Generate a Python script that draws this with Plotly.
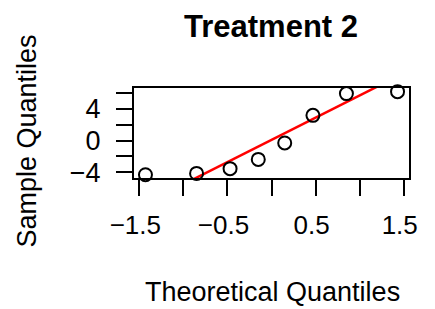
import numpy as np
import plotly.graph_objects as go

# Data (normal Q-Q plot, Treatment 2)
theoretical_q = [-1.43, -0.85, -0.47, -0.15, 0.15, 0.47, 0.85, 1.43]
sample_q = [-4.3, -4.14, -3.54, -2.37, -0.29, 3.2, 5.95, 6.2]

x_tickvals = [-1.5, -1.0, -0.5, 0.0, 0.5, 1.0, 1.5]
x_ticktext = ["\u22121.5", "", "\u22120.5", "", "0.5", "", "1.5"]
y_tickvals = [-4, -2, 0, 2, 4, 6]
y_ticktext = ["\u22124", "", "0", "", "4", ""]

title_text = "Treatment 2"
xlab = "Theoretical Quantiles"
ylab = "Sample Quantiles"

# qqline: line through the 1st and 3rd quartiles
yq = np.quantile(np.array(sample_q), [0.25, 0.75])
xq = np.array([-0.6744897501960817, 0.6744897501960817])
slope = (yq[1] - yq[0]) / (xq[1] - xq[0])
intercept = yq[0] - slope * xq[0]
line_x = np.array([-3.0, 3.0])
line_y = intercept + slope * line_x

# page has an 8px body margin; figure occupies screen pixels 8..427, 8..309
OFF = 8
W, H = 435 - 2 * OFF, 309 - OFF
L, T, B = 134 - OFF, 88 - OFF, 131
R = W - (418 - OFF)
pw, ph = W - L - R, H - T - B

def px(x):  # screen x -> paper
    return (x - OFF - L) / pw

def py(y):  # screen y -> paper
    return (H - B - (y - OFF)) / ph

FONT = "Liberation Sans, Arial, sans-serif"

fig = go.Figure()
fig.add_trace(go.Scatter(x=line_x, y=line_y, mode="lines",
                         line=dict(color="#ff0000", width=2.5),
                         hoverinfo="skip", showlegend=False))
fig.add_trace(go.Scatter(x=theoretical_q, y=sample_q, mode="markers",
                         marker=dict(symbol="circle-open", size=13,
                                     color="black", line=dict(width=2)),
                         cliponaxis=False, showlegend=False))

axis_common = dict(showline=True, linecolor="black", linewidth=2, mirror=True,
                   ticks="outside", ticklen=16, tickwidth=2, tickcolor="black",
                   showgrid=False, zeroline=False)

fig.update_xaxes(range=[-1.56, 1.56], tickvals=x_tickvals, ticktext=x_ticktext,
                 ticklabelstandoff=7, ticklabelshift=-4,
                 tickfont=dict(family=FONT, size=26, color="black"),
                 **axis_common)
fig.update_yaxes(range=[-4.72, 6.66], tickvals=y_tickvals, ticktext=y_ticktext,
                 ticklabelstandoff=10,
                 tickfont=dict(family=FONT, size=27, color="black"),
                 **axis_common)

fig.update_layout(
    width=W, height=H,
    margin=dict(l=L, r=R, t=T, b=B, pad=0),
    paper_bgcolor="white", plot_bgcolor="white",
    showlegend=False,
    annotations=[
        dict(text="<b>" + title_text + "</b>", xref="paper", yref="paper",
             x=px(275), y=py(26), xanchor="center", yanchor="middle",
             showarrow=False, font=dict(family=FONT, size=31, color="black")),
        dict(text=xlab, xref="paper", yref="paper",
             x=px(277), y=py(292), xanchor="center", yanchor="middle",
             showarrow=False, font=dict(family=FONT, size=27, color="black")),
        dict(text=ylab, xref="paper", yref="paper", textangle=-90,
             x=px(23), y=py(141), xanchor="center", yanchor="middle",
             showarrow=False, font=dict(family=FONT, size=27, color="black")),
    ],
)

fig.write_html("out.html")
